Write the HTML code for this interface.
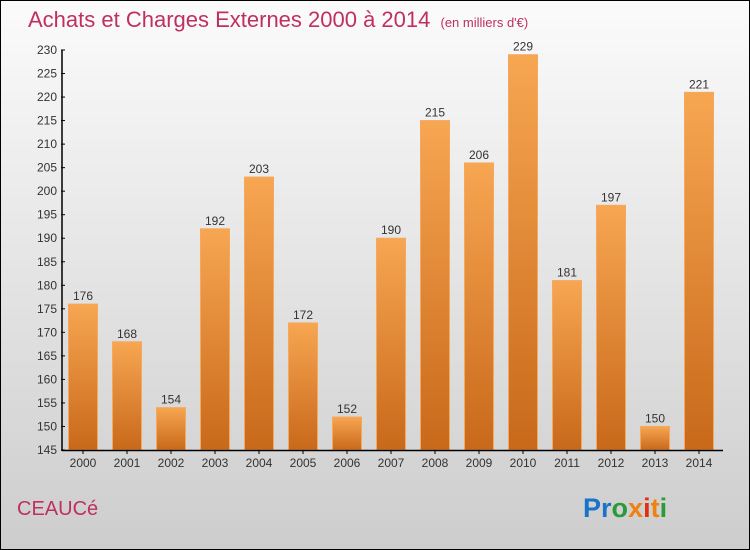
<!DOCTYPE html>
<html><head><meta charset="utf-8"><style>
body{margin:0}
#c{width:748px;height:548px;border:1px solid #000;background:linear-gradient(#fbfbfb,#cdcdcd);position:relative;font-family:"Liberation Sans",sans-serif;overflow:hidden}
</style></head><body>
<div id="c">
<svg width="748" height="548" style="position:absolute;left:0;top:0" id="svg">
<defs><linearGradient id="bg" x1="0" y1="0" x2="0" y2="1"><stop offset="0" stop-color="#f7a652"/><stop offset="1" stop-color="#c8691a"/></linearGradient></defs>
<text x="27" y="26" font-size="22" fill="#c0305e">Achats et Charges Externes 2000 à 2014 <tspan font-size="13" dx="4">(en milliers d'€)</tspan></text>
<text x="16" y="514" font-size="20" fill="#c0305e">CEAUCé</text>
<text x="582" y="516" font-size="27" font-weight="bold"><tspan fill="#1a73c8">Pr</tspan><tspan fill="#2a9a3a">o</tspan><tspan fill="#f08010">x</tspan><tspan fill="#e03010">i</tspan><tspan fill="#f08010">t</tspan><tspan fill="#2a9a3a">i</tspan></text>
<g id="g"></g>
</svg>
</div>
<script>
const years=["2000","2001","2002","2003","2004","2005","2006","2007","2008","2009","2010","2011","2012","2013","2014"];
const values=[176,168,154,192,203,172,152,190,215,206,229,181,197,150,221];
const ticks=[145,150,155,160,165,170,175,180,185,190,195,200,205,210,215,220,225,230];
const g=document.getElementById('g');const NS='http://www.w3.org/2000/svg';
const y=v=>449-(v-145)*400/85;
const x=i=>82+i*44;
function mk(t,a,txt){const e=document.createElementNS(NS,t);for(const k in a)e.setAttribute(k,a[k]);if(txt!=null)e.textContent=txt;g.appendChild(e);return e;}
values.forEach((v,i)=>{
 const r=mk('rect',{x:x(i)-14.5,y:y(v),width:29,height:y(145)-y(v),fill:'url(#bg)',stroke:'#f5a860','stroke-width':1});
 
 
 const l=mk('text',{x:x(i),y:y(v)-4,'font-size':12,'text-anchor':'middle',fill:'#333'},v);
 
 
 const t=mk('text',{x:x(i),y:466,'font-size':12,'text-anchor':'middle',fill:'#333'},years[i]);
 
 
 mk('line',{x1:x(i),x2:x(i),y1:449,y2:453,stroke:'#000'});
});
ticks.forEach(v=>{
 const t=mk('text',{x:56,y:y(v)+4,'font-size':12,'text-anchor':'end',fill:'#333'},v);
 
 
 mk('line',{x1:60,x2:64,y1:y(v),y2:y(v),stroke:'#000'});
});
const ya=mk('line',{x1:61,x2:61,y1:y(230),y2:450,stroke:'#000','stroke-width':1.5});


const xa=mk('line',{x1:61,x2:722,y1:449.5,y2:449.5,stroke:'#000','stroke-width':1.5});


</script>
</body></html>
